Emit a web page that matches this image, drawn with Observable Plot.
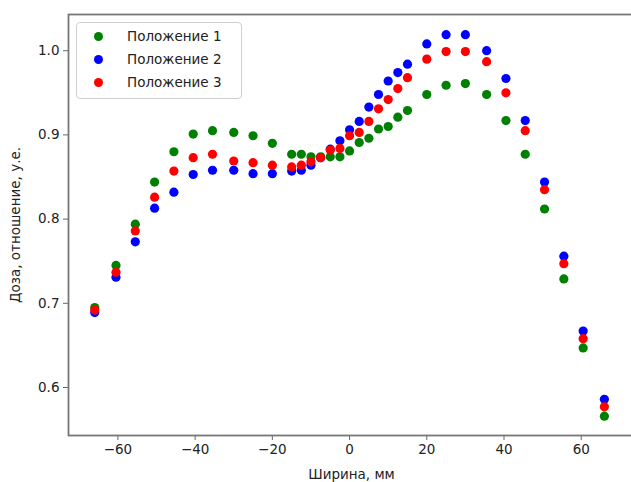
<!DOCTYPE html>
<html>
<head>
<meta charset="utf-8">
<script src="https://cdn.jsdelivr.net/npm/d3@7"></script>
<script src="https://cdn.jsdelivr.net/npm/@observablehq/plot@0.6"></script>
<style>
  body { margin: 0; background: #fff; }
  #wrap { position: relative; width: 631px; height: 482px; overflow: hidden; font-family: "DejaVu Sans", sans-serif; }
  #legend { position: absolute; left: 76px; top: 22px; width: 166px; height: 77px; border: 1px solid #d0d0d0; border-radius: 4px; background: rgba(255,255,255,0.8); box-sizing: border-box; }
  .row { position: absolute; left: 0; height: 20px; font-size: 13.5px; color: #222; }
  .row .m { position: absolute; left: 17px; top: 5px; width: 9px; height: 9px; border-radius: 50%; }
  .row .t { position: absolute; left: 50px; top: 1px; white-space: nowrap; }
</style>
</head>
<body>
<div id="wrap"></div>
<script>
const positions = [-66, -60.5, -55.5, -50.5, -45.5, -40.5, -35.5, -30, -25, -20, -15, -12.5, -10, -7.5, -5, -2.5, 0, 2.5, 5, 7.5, 10, 12.5, 15, 20, 25, 30, 35.5, 40.5, 45.5, 50.5, 55.5, 60.5, 66];
const series1 = [0.695, 0.745, 0.794, 0.844, 0.880, 0.901, 0.905, 0.903, 0.899, 0.890, 0.877, 0.877, 0.874, 0.874, 0.874, 0.874, 0.881, 0.891, 0.896, 0.907, 0.910, 0.921, 0.929, 0.948, 0.959, 0.961, 0.948, 0.917, 0.877, 0.812, 0.729, 0.647, 0.566];
const series2 = [0.689, 0.731, 0.773, 0.813, 0.832, 0.853, 0.858, 0.858, 0.854, 0.854, 0.857, 0.858, 0.864, 0.873, 0.883, 0.893, 0.906, 0.916, 0.933, 0.948, 0.964, 0.974, 0.984, 1.008, 1.019, 1.019, 1.000, 0.967, 0.917, 0.844, 0.756, 0.667, 0.586];
const series3 = [0.692, 0.737, 0.786, 0.826, 0.857, 0.873, 0.877, 0.869, 0.867, 0.864, 0.862, 0.864, 0.868, 0.873, 0.882, 0.884, 0.899, 0.903, 0.916, 0.931, 0.942, 0.955, 0.968, 0.990, 0.999, 0.999, 0.987, 0.950, 0.905, 0.835, 0.747, 0.658, 0.577];
const seriesNames = ["Положение 1", "Положение 2", "Положение 3"];
const seriesColors = ["#008000", "#0000ff", "#ff0000"];
const xTicks = [-60, -40, -20, 0, 20, 40, 60];
const yTicks = [0.6, 0.7, 0.8, 0.9, 1.0];
const xLabel = "Ширина, мм";
const yLabel = "Доза, отношение, у.е.";

const allSeries = [series1, series2, series3];
const data = allSeries.flatMap((vals, i) => vals.map((v, j) => ({x: positions[j], y: v, s: seriesNames[i]})));

const chart = Plot.plot({
  width: 631,
  height: 482,
  marginLeft: 68,
  marginRight: -3,
  marginTop: 14,
  marginBottom: 47,
  style: {fontFamily: "DejaVu Sans, sans-serif", fontSize: "13.5px", color: "#222", background: "#fff"},
  x: {domain: [-72.8, 73.8]},
  y: {domain: [0.543, 1.043]},
  color: {domain: seriesNames, range: seriesColors},
  marks: [
    Plot.axisX({ticks: xTicks, tickSize: 5, tickPadding: 4, label: xLabel, labelAnchor: "center", labelArrow: "none", labelOffset: 43, stroke: "#666"}),
    Plot.axisY({ticks: yTicks, tickSize: 5, tickPadding: 4, tickFormat: d3.format(".1f"), label: yLabel, labelAnchor: "center", labelArrow: "none", labelOffset: 58, stroke: "#666"}),
    Plot.dot(data, {x: "x", y: "y", fill: "s", r: 4.6, stroke: "none"}),
    Plot.frame({stroke: "#777", strokeWidth: 1.8})
  ]
});

const wrap = document.getElementById("wrap");
wrap.appendChild(chart);

const legend = document.createElement("div");
legend.id = "legend";
seriesNames.forEach((name, i) => {
  const row = document.createElement("div");
  row.className = "row";
  row.style.top = (4 + i * 23) + "px";
  const m = document.createElement("div");
  m.className = "m";
  m.style.background = seriesColors[i];
  const t = document.createElement("div");
  t.className = "t";
  t.textContent = name;
  row.appendChild(m);
  row.appendChild(t);
  legend.appendChild(row);
});
wrap.appendChild(legend);
</script>
</body>
</html>
